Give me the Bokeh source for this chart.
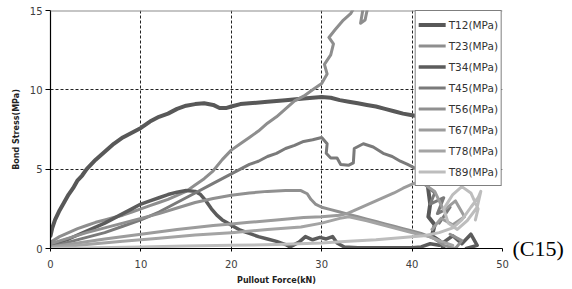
from bokeh.plotting import figure
from bokeh.models import Legend, LegendItem, Span, FixedTicker, Range1d, LinearAxis
from bokeh.embed import file_html
from bokeh.resources import INLINE

# ---- data ----
t12_x = [0, 0.2, 0.5, 1, 1.5, 2, 2.5, 3, 3.5, 4, 5, 6, 7, 8, 9, 10, 11, 12, 13, 14, 15, 16, 17, 18, 18.7, 19.4,
         20, 21, 22, 24, 26, 28, 30, 31, 32, 33, 34, 35, 36, 37, 38, 39, 40, 41, 41.5, 42, 41.8, 42.5, 42.2, 43, 43.5]
t12_y = [0.8, 1.3, 1.8, 2.4, 2.9, 3.4, 3.8, 4.3, 4.6, 5.0, 5.6, 6.1, 6.6, 7.0, 7.3, 7.6, 8.0, 8.3, 8.5, 8.8, 9.0, 9.1, 9.15, 9.05,
         8.85, 8.85, 8.95, 9.1, 9.15, 9.25, 9.35, 9.45, 9.55, 9.5, 9.35, 9.25, 9.15, 9.05, 8.95, 8.8, 8.65, 8.5, 8.4, 8.3, 5.0, 2.8,
         2.0, 1.5, 0.8, 0.5, 0.0]

t23_x = [0, 1, 2, 3, 4, 5, 6, 7, 8, 9, 10, 11, 12, 13, 14, 15, 16, 17, 18, 19, 20, 21, 22, 23, 24, 25, 26, 27, 28, 29,
         30, 30.6, 30.3, 31.0, 31.3, 30.8, 31.5, 32.4, 33.2, 33.8, 34.6, 34.3, 34.8, 35.2]
t23_y = [0.4, 0.75, 1.0, 1.25, 1.45, 1.65, 1.8, 1.95, 2.1, 2.3, 2.5, 2.7, 2.9, 3.1, 3.35, 3.6, 4.0, 4.4, 4.9, 5.6, 6.2, 6.6,
         7.0, 7.4, 7.9, 8.3, 8.8, 9.3, 9.6, 10.0, 10.4, 11.0, 11.6, 12.2, 12.9, 13.3, 13.8, 14.4, 14.8, 15.4, 15.2, 14.2, 14.4, 15.5]

t34_x = [0, 1, 2, 3, 4, 5, 6, 7, 8, 9, 10, 11, 12, 13, 14, 15, 16, 16.6, 17.2, 17.8, 18.4, 19, 19.6, 20.2, 21, 22, 23, 24,
         25, 26, 26.5, 27.5, 28.2, 29, 29.8, 30.5, 31.2, 31.7, 32.5, 34, 36, 38, 40, 41, 42, 43, 44.5, 45.5, 46.5, 47.2, 46]
t34_y = [0.2, 0.4, 0.6, 0.85, 1.1, 1.35, 1.6, 1.9, 2.2, 2.5, 2.8, 3.0, 3.2, 3.4, 3.55, 3.65, 3.6, 3.4, 3.0, 2.5, 2.1, 1.8,
         1.6, 1.4, 1.15, 0.95, 0.75, 0.6, 0.45, 0.25, 0.1, 0.4, 0.75, 0.55, 0.7, 0.6, 0.75, 0.35, 0.1, 0.05, 0.05, 0.05, 0.05,
         0.1, 0.3, 0.2, 0.8, 0.3, 0.9, 0.2, 0.0]

t45_x = [0, 2, 4, 6, 8, 10, 12, 14, 16, 18, 19, 20, 21, 22, 23, 24, 25, 26, 27, 28, 29, 30, 30.6, 30.5, 31.0, 31.7, 32.1,
         33.0, 33.5, 33.6, 34.6, 35.7, 36.8, 37.8, 38.7, 39.5, 40.2, 41.0, 41.5, 42.5, 42.0, 43.5, 42.8, 44.2, 43.0]
t45_y = [0.1, 0.4, 0.7, 1.0, 1.4, 1.8, 2.3, 2.9, 3.5, 4.1, 4.4, 4.7, 5.0, 5.3, 5.5, 5.8, 6.0, 6.3, 6.5, 6.75, 6.85, 7.0,
         6.6, 6.0, 5.7, 5.7, 5.3, 5.25, 5.4, 6.3, 6.6, 6.4, 6.0, 5.8, 5.5, 5.3, 5.1, 4.8, 4.0, 3.5, 2.8, 3.2, 2.2, 2.6, 1.6]

t56_x = [0, 2, 4, 6, 8, 10, 12, 14, 16, 18, 20, 22, 24, 26, 27.7, 28.4, 28.8, 29.3, 30, 31, 32, 33, 34, 35, 36, 37, 38,
         39, 40, 41, 42.5, 43.5, 44.8, 45.5, 44.2]
t56_y = [0.3, 0.65, 1.0, 1.3, 1.6, 1.9, 2.2, 2.55, 2.9, 3.15, 3.35, 3.5, 3.6, 3.65, 3.65, 3.45, 3.1, 2.8, 2.6, 2.45, 2.3,
         2.15, 2.0, 1.85, 1.7, 1.55, 1.4, 1.25, 1.1, 0.95, 0.6, 0.2, 0.0, 0.5, 0.9]

t67_x = [0, 3, 6, 10, 14, 18, 20, 22, 25, 28, 30, 31, 32, 32.8, 34, 35, 36, 37, 38, 39, 40.2, 41, 42.5, 43.5, 44.8, 45.8,
         44.5, 43.2, 42.2]
t67_y = [0.1, 0.35, 0.6, 0.9, 1.2, 1.45, 1.55, 1.65, 1.8, 1.95, 2.0, 2.05, 2.1, 2.2, 2.5, 2.75, 3.0, 3.25, 3.5, 3.8, 4.1,
         4.2, 3.6, 2.4, 3.0, 2.0, 1.5, 1.9, 1.2]

t78_x = [0, 4, 8, 12, 16, 20, 24, 27.7, 30, 32, 33, 35, 37, 39, 41, 42, 43, 44.5]
t78_y = [0.05, 0.25, 0.45, 0.65, 0.85, 1.0, 1.2, 1.35, 1.6, 1.9, 2.0, 1.75, 1.45, 1.15, 0.85, 0.75, 0.5, 0.2]

t89_x = [0, 5, 10, 15, 20, 25, 30, 33, 36, 39, 41.3, 43, 44.5, 45.5, 46.5, 47.3, 47.6, 47.2, 46.1, 45, 44, 43.5, 44.5,
         45.5, 46.5, 47.3, 47]
t89_y = [0, 0.05, 0.1, 0.15, 0.2, 0.25, 0.35, 0.45, 0.55, 0.7, 0.8, 1.0, 1.3, 1.8, 2.6, 3.2, 3.6, 2.6, 1.75, 1.2, 1.6, 2.5,
         3.4, 3.9, 3.5, 2.5, 1.8]

series_names = ["T12(MPa)", "T23(MPa)", "T34(MPa)", "T45(MPa)", "T56(MPa)", "T67(MPa)", "T78(MPa)", "T89(MPa)"]
series_x = [t12_x, t23_x, t34_x, t45_x, t56_x, t67_x, t78_x, t89_x]
series_y = [t12_y, t23_y, t34_y, t45_y, t56_y, t67_y, t78_y, t89_y]
colors = ["#585858", "#8e8e8e", "#5c5c5c", "#7a7a7a", "#909090", "#9c9c9c", "#a4a4a4", "#bdbdbd"]
widths = [4, 3, 3.5, 3, 3, 3, 3, 3]

x_ticks = [0, 10, 20, 30, 40, 50]
y_ticks = [0, 5, 10, 15]
x_grid = [10, 20, 30, 40]
y_grid = [5, 10]
panel_tag = "(C15)"

p = figure(width=572, height=289, output_backend="svg", toolbar_location=None,
           x_range=Range1d(0, 50), y_range=Range1d(0, 15),
           min_border_left=50, min_border_right=70, min_border_top=10, min_border_bottom=41)
p.outline_line_color = None
p.background_fill_color = "white"

items = []
for name, xs, ys, c, w in zip(series_names, series_x, series_y, colors, widths):
    r = p.line(xs, ys, line_color=c, line_width=w, line_join="round", line_cap="round")
    items.append(LegendItem(label=name, renderers=[r]))

# axes
for ax in (p.xaxis[0], p.yaxis[0]):
    ax.axis_line_color = "black"
    ax.axis_line_width = 1.2
    ax.major_tick_line_color = "black"
    ax.minor_tick_line_color = None
    ax.major_tick_in = 0
    ax.major_label_text_font = "DejaVu Sans"
    ax.major_label_text_font_size = "10px"
    ax.major_label_text_color = "#404040"
    ax.axis_label_text_font = "DejaVu Sans"
    ax.axis_label_text_font_size = "8px"
    ax.axis_label_text_font_style = "bold"
    ax.axis_label_text_color = "#222222"

p.xaxis[0].ticker = FixedTicker(ticks=x_ticks)
p.yaxis[0].ticker = FixedTicker(ticks=y_ticks)
p.xaxis[0].major_tick_out = 3
p.yaxis[0].major_tick_out = 5
p.xaxis[0].major_label_standoff = 8
p.yaxis[0].major_label_standoff = 3
p.xaxis[0].axis_label = "Pullout Force(kN)"
p.yaxis[0].axis_label = "Bond Stress(MPa)"
p.xaxis[0].axis_label_standoff = 5
p.yaxis[0].axis_label_standoff = 6

# panel tag "(C15)" drawn as a right-side axis label at y = 0
tag_axis = LinearAxis(ticker=FixedTicker(ticks=[y_ticks[0]]), major_label_overrides={y_ticks[0]: panel_tag},
                      axis_line_color=None, major_tick_line_color=None, minor_tick_line_color=None,
                      major_tick_out=0, major_tick_in=0, major_label_standoff=10,
                      major_label_text_font="Liberation Serif", major_label_text_font_size="22px",
                      major_label_text_color="black")
p.add_layout(tag_axis, "right")

# grid
p.xgrid[0].ticker = FixedTicker(ticks=x_grid)
p.ygrid[0].ticker = FixedTicker(ticks=y_grid)
for g in (p.xgrid[0], p.ygrid[0]):
    g.grid_line_color = "#222222"
    g.grid_line_dash = "3 2"
    g.grid_line_width = 1

# top line of the plot area
p.add_layout(Span(location=y_ticks[-1], dimension="width", line_color="#8c8c8c", line_width=2))

legend = Legend(items=items, location="top_right", margin=0, padding=3, spacing=0,
                glyph_width=27, glyph_height=21, label_height=21, label_standoff=3,
                label_text_font="DejaVu Sans", label_text_font_size="10.5px", label_text_color="#333333",
                border_line_color="black", border_line_width=1,
                background_fill_color="white", background_fill_alpha=1.0)
p.add_layout(legend)

open("out.html", "w").write(file_html(p, INLINE))
